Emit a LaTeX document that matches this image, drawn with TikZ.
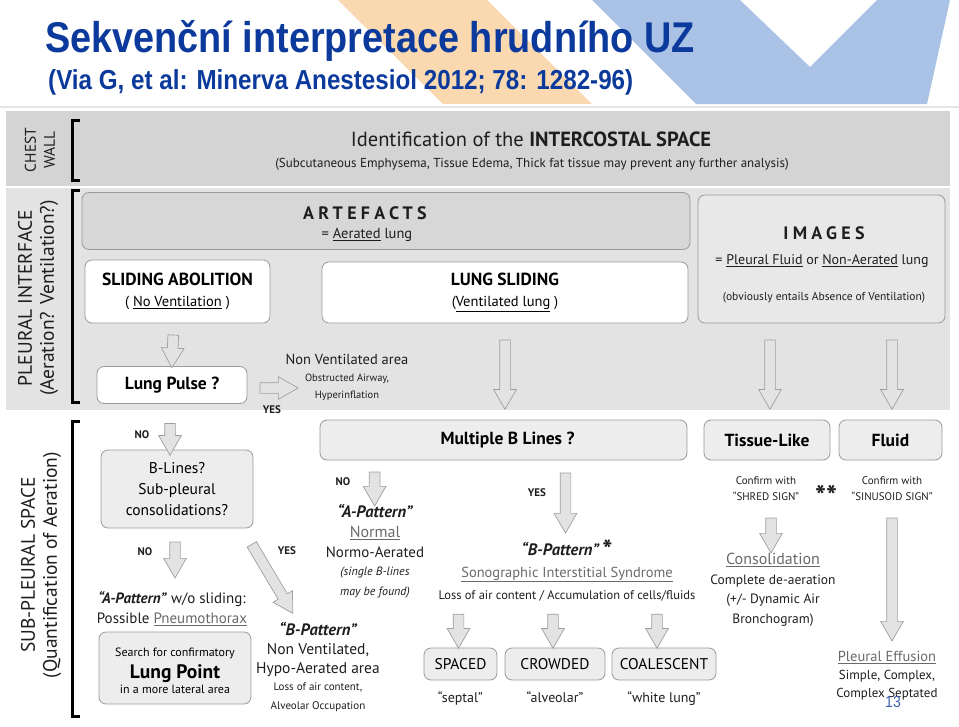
\documentclass[tikz,border=0pt]{standalone}
\usepackage{fontspec}
\setmainfont{PT Sans}
\newfontfamily\headfont[FakeStretch=0.88]{Liberation Sans}
\usetikzlibrary{shapes.arrows,positioning,calc}
\definecolor{titleblue}{HTML}{0B3A9C}
\definecolor{stripeorange}{HTML}{FAD9B0}
\definecolor{stripeblue}{HTML}{A9C2E5}
\definecolor{cwgray}{HTML}{D4D4D4}
\definecolor{plgray}{HTML}{E3E3E3}
\definecolor{artgray}{HTML}{D7D7D7}
\definecolor{imggray}{HTML}{E8E8E8}
\definecolor{boxgray}{HTML}{EDEDED}
\definecolor{edgegray}{HTML}{9A9A9A}
\definecolor{ink}{HTML}{1E1E1E}
\definecolor{softink}{HTML}{6A6A6A}
\newcommand{\fsz}[2]{\fontsize{#1}{#2}\selectfont}
\newcommand{\undl}[1]{\underline{#1}}
\newcommand{\lspaced}[1]{{\addfontfeatures{LetterSpace=24}#1}}
\newcommand{\soft}[1]{\textcolor{softink}{\underline{#1}}}
\tikzset{
  panel/.style={draw=edgegray, line width=0.8pt, rounded corners=7pt},
  whitebox/.style={panel, fill=white},
  artbox/.style={panel, fill=artgray},
  greybox/.style={panel, fill=boxgray},
  txt/.style={align=center, inner sep=0pt, text=ink},
  yesno/.style={txt, font=\bfseries\fsz{11}{13}},
  fat/.style={single arrow, draw=gray!75, fill=gray!22, line width=0.7pt,
              inner sep=5pt, single arrow head extend=6pt,
              single arrow tip angle=60, minimum width=0pt, outer sep=0pt},
}
% hollow block arrow between two points
\newcommand{\fatarrow}[2]{%
  \path let \p1=#1, \p2=#2, \n1={veclen(\x2-\x1,\y2-\y1)},
    \n2={atan2(\y2-\y1,\x2-\x1)} in
    node[fat, minimum height=\n1, rotate=\n2] at ($(\p1)!0.5!(\p2)$) {};}

\begin{document}
\begin{tikzpicture}[x=1pt,y=-1pt]
\useasboundingbox (0,0) rectangle (959,726);
% banner
\fill[stripeorange] (338,0) -- (487,0) -- (592,104) -- (443,104) -- cycle;
\fill[stripeblue] (592,0) -- (740,0) -- (810,67) -- (877,0) -- (950,0)
  -- (927,104) -- (696,104) -- cycle;
\fill[gray!20] (0,106) rectangle (959,108);
\node[anchor=base west, inner sep=0pt, text=titleblue,
      font=\headfont\bfseries\fsz{43}{45}] (title) at (45,52)
  {Sekvenční interpretace hrudního UZ};
\node[anchor=base west, inner sep=0pt, text=titleblue,
      font=\headfont\bfseries\fsz{27.5}{30}] (subtitle) at (48,89)
  {(Via G, et al: Minerva Anestesiol 2012; 78: 1282-96)};

% bands
\fill[cwgray] (6,111) rectangle (950,186);
\fill[plgray] (6,188) rectangle (950,410);
\draw[line width=3pt] (80,120) -- (72,120) -- (72,180) -- (80,180);
\draw[line width=3pt] (80,190) -- (72,190) -- (72,402) -- (80,402);
\draw[line width=3pt] (80,421) -- (72,421) -- (72,716) -- (80,716);
\node[txt, rotate=90, font=\fsz{15.5}{19}] (cwlab) at (40,150) {CHEST\\WALL};
\node[txt, rotate=90, font=\fsz{19.5}{22}] (pllab) at (38,298)
  {PLEURAL INTERFACE\\(Aeration? Ventilation?)};
\node[txt, rotate=90, font=\fsz{19.5}{22}] (splab) at (41,565)
  {SUB-PLEURAL SPACE\\(Quantification of Aeration)};

% chest wall
\node[txt, font=\fsz{20.5}{22}] (cwhead) at (531,139)
  {Identification of the \textbf{INTERCOSTAL SPACE}};
\node[txt, font=\fsz{13}{15}] (cwnote) at (532,164)
  {(Subcutaneous Emphysema, Tissue Edema, Thick fat tissue may prevent any further analysis)};

% pleural interface
\node[artbox, minimum width=608, minimum height=57] (art) at (386,221) {};
\node[txt, font=\bfseries\fsz{18}{20}] (arthead) at (365,213) {\lspaced{ARTEFACTS}};
\node[txt, font=\fsz{14.5}{16}] (artnote) at (367,235) {= \undl{Aerated} lung};
\node[panel, fill=imggray, minimum width=247, minimum height=128] (img) at (821.5,259) {};
\node[txt, font=\bfseries\fsz{18}{20}] (imghead) at (824,233) {\lspaced{IMAGES}};
\node[txt, font=\fsz{14}{16}] (imgnote) at (822,261)
  {= \undl{Pleural Fluid} or \undl{Non-Aerated} lung};
\node[txt, font=\fsz{11.5}{13}] (imgsub) at (824,298)
  {(obviously entails Absence of Ventilation)};
\node[whitebox, minimum width=185, minimum height=63, align=center,
      font=\bfseries\fsz{17.5}{21}] (sab) at (177.5,291.5)
  {SLIDING ABOLITION\\{\mdseries\fsz{14.5}{16}( \undl{No Ventilation} )}};
\node[whitebox, minimum width=366, minimum height=61, align=center,
      font=\bfseries\fsz{17.5}{21}] (ls) at (505,292.5)
  {LUNG SLIDING\\{\mdseries\fsz{14.5}{16}(\undl{Ventilated lung} )}};
\node[whitebox, minimum width=150, minimum height=37, font=\bfseries\fsz{17.5}{19}]
  (lp) at (172,385) {Lung Pulse ?};
\node[txt, font=\fsz{14.5}{17}] (nva) at (347,377)
  {Non Ventilated area\\{\fsz{10.5}{17}Obstructed Airway,}\\{\fsz{10.5}{13}Hyperinflation}};
\node[yesno] (yes1) at (272,410) {YES};

% sub-pleural space
\node[greybox, minimum width=367, minimum height=40, font=\bfseries\fsz{17.5}{19}]
  (mbl) at (503.5,440) {\hspace{8pt}Multiple B Lines ?};
\node[greybox, minimum width=126, minimum height=40, font=\bfseries\fsz{17.5}{19}]
  (tis) at (767,440) {Tissue-Like};
\node[greybox, minimum width=103, minimum height=40, font=\bfseries\fsz{17.5}{19}]
  (flu) at (890.5,440) {Fluid};
\node[greybox, minimum width=152, minimum height=78, align=center, font=\fsz{15.5}{21}]
  (blq) at (177,489) {B-Lines?\\Sub-pleural\\consolidations?};
\node[yesno] (no1) at (142,435) {NO};
\node[yesno] (no2) at (145,552) {NO};
\node[yesno] (yes2) at (287,551) {YES};
\node[txt, font=\fsz{15}{20}] (apat) at (172,609)
  {\textbf{\textit{“A-Pattern”}} w/o sliding:\\Possible \soft{Pneumothorax}};
\node[greybox, minimum width=152, minimum height=72, align=center] (lpt) at (175,668)
  {\raisebox{0pt}[14pt]{\fsz{12}{14}Search for confirmatory}\\[5pt]{\bfseries\fsz{19.5}{21}Lung Point}\\[1pt]{\fsz{12}{14}in a more lateral area}};
\node[txt, font=\fsz{15.5}{19}] (bpl) at (318,667)
  {{\bfseries\itshape\fsz{16.5}{19}“B-Pattern”}\\Non Ventilated,\\Hypo-Aerated area\\[-2pt]
   {\fsz{11}{16}Loss of air content,}\\{\fsz{11}{14}Alveolar Occupation}};
\node[yesno] (no3) at (343,482) {NO};
\node[txt, font=\fsz{15}{20}] (apm) at (375,551)
  {{\bfseries\itshape\fsz{16.5}{19}“A-Pattern”}\\{\fsz{16}{20}\soft{Normal}}\\Normo-Aerated\\[-2pt]
   {\itshape\fsz{12}{19}(single B-lines}\\{\itshape\fsz{12}{17}may be found)}};
\node[yesno] (yes3) at (537,493) {YES};
\node[txt, font=\fsz{14}{22}] (bpm) at (567,570)
  {{\bfseries\itshape\fsz{16.5}{22}“B-Pattern”\/\,\upshape\raisebox{-4pt}{\fsz{27}{22}*}}\\{\fsz{14.5}{22}\soft{Sonographic Interstitial Syndrome}}\\{\fsz{12.5}{15}Loss of air content / Accumulation of cells/fluids}};
\node[greybox, minimum width=73, minimum height=32, font=\fsz{15.5}{17}] (spc) at (460.5,664) {SPACED};
\node[greybox, minimum width=100, minimum height=32, font=\fsz{15.5}{17}] (crw) at (555,664) {CROWDED};
\node[greybox, minimum width=104, minimum height=32, font=\fsz{15.5}{17}] (coa) at (664,664) {COALESCENT};
\node[txt, font=\fsz{14}{16}, below=11pt of spc] (spcl) {“septal”};
\node[txt, font=\fsz{14}{16}, below=11pt of crw] (crwl) {“alveolar”};
\node[txt, font=\fsz{14}{16}, below=11pt of coa] (coal) {“white lung”};
\node[txt, font=\fsz{11}{16}] (shred) at (766,489) {Confirm with\\“SHRED SIGN”};
\node[txt, font=\bfseries\fsz{29}{29}] (stars) at (826,496) {**};
\node[txt, font=\fsz{11}{16}] (sinus) at (892,489) {Confirm with\\“SINUSOID SIGN”};
\node[txt, font=\fsz{13.5}{19.5}] (cons) at (773,590)
  {{\fsz{16}{19.5}\soft{Consolidation}}\\Complete de-aeration\\(+/- Dynamic Air\\Bronchogram)};
\node[txt, font=\fsz{13}{18}] (eff) at (887,676)
  {{\fsz{14.5}{18}\soft{Pleural Effusion}}\\Simple, Complex,\\Complex Septated};
\node[txt, text=titleblue!80, font=\headfont\fsz{16}{18}] (pgnum) at (893,702) {13};

% block arrows
\fatarrow{($(sab.south)+(-4,7)$)}{($(lp.north)+(0,-3)$)}
\fatarrow{($(lp.east)+(8,3)$)}{($(lp.east)+(46,3)$)}
\fatarrow{($(ls.south)+(0,12)$)}{($(ls.south |- mbl.north)+(0,-15)$)}
\fatarrow{($(img.south -| tis.north)+(3,12)$)}{($(tis.north)+(3,-15)$)}
\fatarrow{($(img.south -| flu.north)+(1.5,12)$)}{($(flu.north)+(1.5,-15)$)}
\fatarrow{($(lp.south)+(-2,15)$)}{($(lp.south |- blq.north)+(-2,1)$)}
\fatarrow{($(blq.south)+(-2,9)$)}{($(blq.south)+(-2,45)$)}
\fatarrow{($(blq.south east)+(-4,12)$)}{($(blq.south east)+(37,81)$)}
\fatarrow{($(mbl.south west)+(55,7)$)}{($(mbl.south west)+(55,41)$)}
\fatarrow{($(mbl.south)+(62,8)$)}{($(mbl.south)+(62,68)$)}
\fatarrow{($(spc.north)+(-2,-38)$)}{($(spc.north)+(-2,-4)$)}
\fatarrow{($(crw.north)+(-2,-38)$)}{($(crw.north)+(-2,-4)$)}
\fatarrow{($(coa.north)+(-7,-38)$)}{($(coa.north)+(-7,-4)$)}
\fatarrow{($(tis.south)+(4,53)$)}{($(tis.south)+(4,88)$)}
\fatarrow{($(flu.south)+(1.5,53)$)}{($(flu.south)+(1.5,176)$)}
\end{tikzpicture}
\end{document}
